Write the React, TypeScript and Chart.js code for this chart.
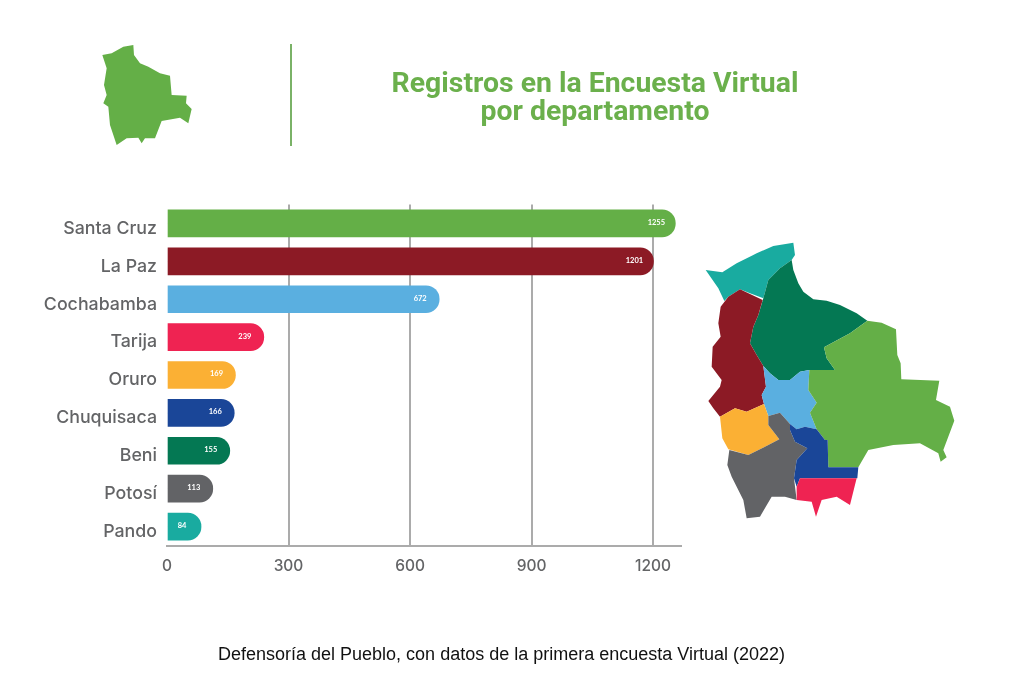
import React, { useEffect, useRef } from "react";
import { Chart, registerables } from "chart.js";

Chart.register(...registerables);

const categories = ["Santa Cruz", "La Paz", "Cochabamba", "Tarija", "Oruro", "Chuquisaca", "Beni", "Potosí", "Pando"];
const registros = [1255, 1201, 672, 239, 169, 166, 155, 113, 84];
const barColors = ["#64AF47", "#8C1A25", "#5AAFE0", "#EF2352", "#FBB034", "#1A4698", "#047853", "#626366", "#19ABA0"];
const xTicks = [0, 300, 600, 900, 1200];
const titleLines = ["Registros en la Encuesta Virtual", "por departamento"];
const footer = "Defensoría del Pueblo, con datos de la primera encuesta Virtual (2022)";

const regions: [string, string][] = [
  ["#19ABA0", "47,120 97,127 140,100 200,70 250,48 310,38 315,75 305,90 270,115 235,150 220,205 180,190 150,178 115,200 103,213 85,175"],
  ["#047853", "305,90 310,120 325,160 340,185 370,208 410,212 450,225 500,250 532,272 480,310 402,352 410,385 435,420 358,420 330,425 300,450 265,450 240,430 220,408 200,375 180,340 190,290 205,255 220,205 235,150 270,115"],
  ["#8C1A25", "150,178 218,210 205,255 190,290 180,340 200,375 220,408 228,470 215,495 222,522 170,545 135,535 90,560 70,535 55,513 90,470 95,450 65,410 68,350 92,320 85,280 92,230 115,200"],
  ["#5AAFE0", "220,408 240,430 265,450 300,450 330,425 358,420 355,480 380,518 360,548 380,598 345,590 320,598 300,582 270,548 235,558 222,522 215,495 228,470"],
  ["#64AF47", "532,272 575,278 618,298 622,375 632,400 634,448 748,452 738,510 780,530 793,572 760,660 770,682 752,695 745,670 690,640 610,645 535,660 505,712 415,712 413,630 405,630 380,598 360,548 380,518 355,480 358,420 435,420 410,385 402,352 480,310"],
  ["#FBB034", "222,522 235,558 235,585 268,628 225,650 175,675 115,658 97,625 90,560 135,535 170,545"],
  ["#626366", "270,548 300,582 300,600 315,635 352,655 320,690 312,745 320,810 285,800 245,800 210,860 170,865 160,810 125,740 112,705 118,660 175,675 225,650 268,628 235,585 235,558"],
  ["#1A4698", "300,582 320,598 345,590 380,598 405,630 413,630 415,712 505,712 502,745 330,745 320,770 312,745 320,690 352,655 315,635 300,600"],
  ["#EF2352", "330,745 500,745 480,825 440,800 395,810 378,860 365,815 320,810 320,770"],
];
const outline = "37,60 65,55 100,35 130,30 132,60 150,85 175,95 210,115 240,122 245,180 290,182 288,205 305,222 295,265 270,248 215,258 195,310 165,310 155,325 145,308 110,310 80,330 60,270 55,215 40,205 50,180 42,150 50,100";

const valueLabels = {
  id: "valueLabels",
  afterDatasetsDraw(chart: any) {
    const ctx = chart.ctx;
    const meta = chart.getDatasetMeta(0);
    ctx.save();
    ctx.fillStyle = "#ffffff";
    ctx.font = "bold 7.5px Lato";
    ctx.textAlign = "center";
    ctx.textBaseline = "middle";
    meta.data.forEach((el: any, i: number) => {
      ctx.fillText(String(registros[i]), el.x - 19, el.y - 1);
    });
    ctx.restore();
  },
};

export default function App() {
  const ref = useRef<HTMLCanvasElement>(null);
  useEffect(() => {
    const chart = new Chart(ref.current!, {
      type: "bar",
      data: {
        labels: categories,
        datasets: [
          {
            data: registros,
            backgroundColor: barColors,
            barThickness: 27,
            borderSkipped: false,
            borderRadius: { topLeft: 0, bottomLeft: 0, topRight: 13.5, bottomRight: 13.5 },
          },
        ],
      },
      options: {
        indexAxis: "y",
        animation: false,
        responsive: false,
        layout: { padding: { left: 0, top: 204.5, right: 343, bottom: 0 } },
        plugins: { legend: { display: false }, tooltip: { enabled: false } },
        scales: {
          x: {
            min: 0,
            max: 1269,
            afterBuildTicks: (s: any) => {
              s.ticks = xTicks.map((value) => ({ value }));
            },
            afterFit: (s: any) => {
              s.height = 137.5;
            },
            grid: {
              drawTicks: false,
              lineWidth: 2,
              color: (c: any) => (c.tick && c.tick.value === 0 ? "rgba(0,0,0,0)" : "#ABABAB"),
            },
            border: { display: true, color: "#ABABAB", width: 2 },
            ticks: {
              padding: 12,
              maxRotation: 0,
              autoSkip: false,
              color: "#636466",
              callback: (v: any) => String(v),
              font: { family: "Inter", size: 15.5, weight: "500" },
            },
          },
          y: {
            afterFit: (s: any) => {
              s.width = 167;
            },
            grid: { display: false, drawTicks: false },
            border: { display: false },
            ticks: {
              padding: 10,
              autoSkip: false,
              labelOffset: 5,
              color: "#636466",
              font: { family: "Inter", size: 17.8, weight: "500" },
            },
          },
        },
      },
      plugins: [valueLabels],
    } as any);
    return () => chart.destroy();
  }, []);

  return (
    <div style={{ position: "absolute", left: 0, top: 0, width: 1024, height: 683, background: "#fff", overflow: "hidden" }}>
      <canvas ref={ref} width={1024} height={683} style={{ position: "absolute", left: 0, top: 0, display: "block" }} />
      <svg width={1024} height={683} style={{ position: "absolute", left: 0, top: 0 }}>
        <g transform="translate(90,35) scale(0.3333)">
          <polygon points={outline} fill="#64AF47" />
        </g>
        <line x1={291} y1={44} x2={291} y2={146} stroke="#7AB267" strokeWidth={2} />
        <g transform="translate(690,230) scale(0.3333)">
          {regions.map(([fill, points], i) => (
            <polygon key={i} points={points} fill={fill} />
          ))}
        </g>
      </svg>
      <div
        style={{
          position: "absolute",
          left: 295,
          width: 600,
          top: 69,
          textAlign: "center",
          fontFamily: "Roboto",
          fontWeight: 700,
          fontSize: 28.4,
          lineHeight: "28px",
          color: "#6BB04C",
        }}
      >
        {titleLines.map((t) => (
          <div key={t}>{t}</div>
        ))}
      </div>
      <div
        style={{
          position: "absolute",
          left: 0,
          width: 1003,
          top: 644,
          textAlign: "center",
          fontFamily: "Liberation Sans",
          fontSize: 18,
          lineHeight: "20px",
          color: "#111",
          whiteSpace: "nowrap",
        }}
      >
        {footer}
      </div>
    </div>
  );
}
